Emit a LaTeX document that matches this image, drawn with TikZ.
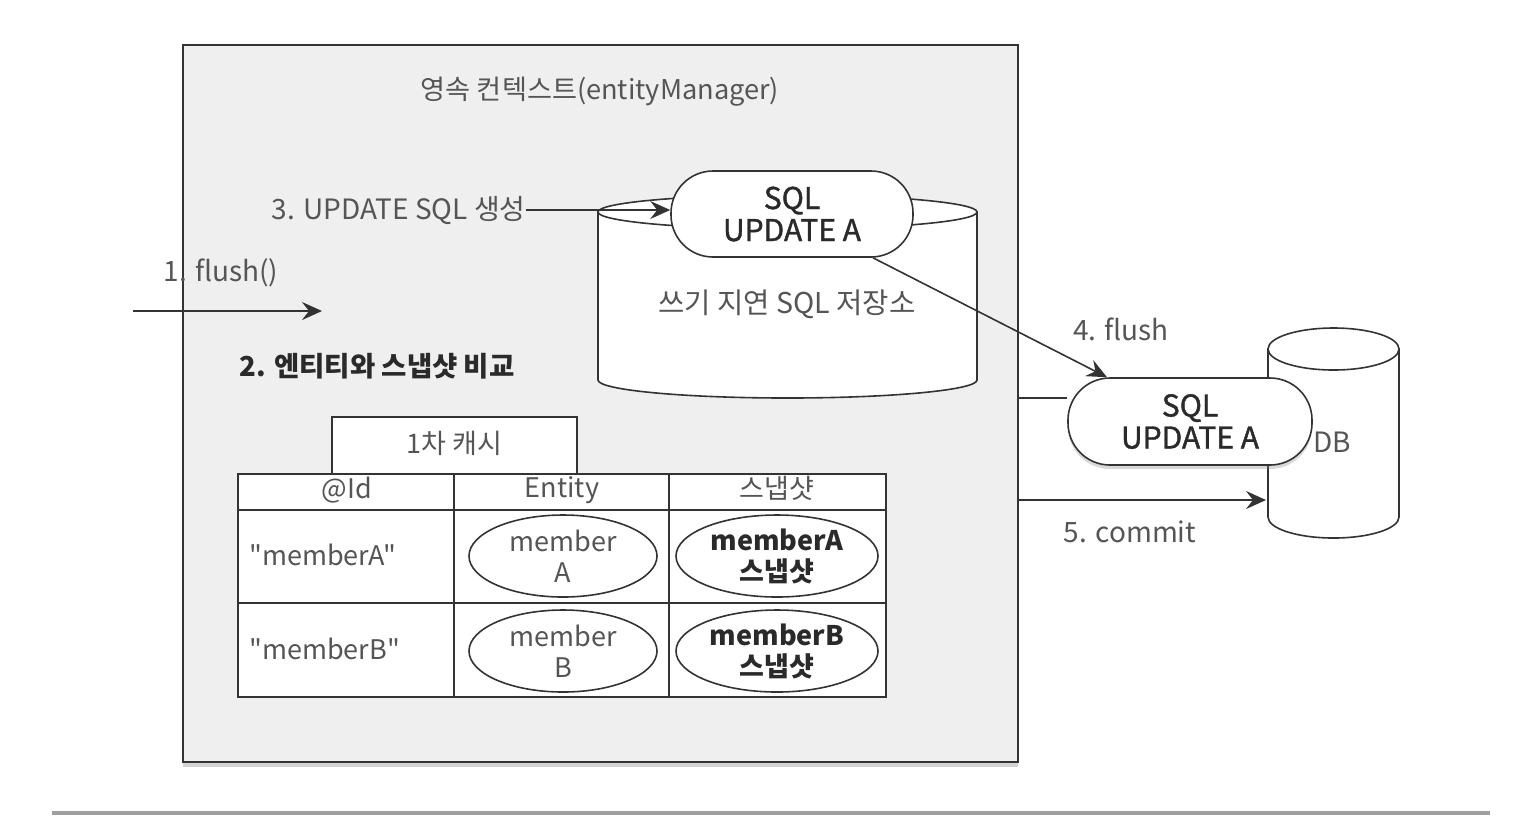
\documentclass[tikz,border=0pt]{standalone}
\usepackage{fontspec}
\setmainfont{Noto Sans CJK KR}
\newfontfamily\medfont[FakeBold=1.3]{Noto Sans CJK KR}
\newfontfamily\qfont[Ligatures=TeXOff]{Noto Sans CJK KR}
\usetikzlibrary{shapes.geometric,arrows.meta,shadows,calc}
\definecolor{bgbox}{HTML}{EFEFEF}
\definecolor{ln}{HTML}{333333}
\definecolor{tx}{HTML}{555555}
\definecolor{txd}{HTML}{2A2A2A}
\tikzset{
  lbl/.style={text=tx,font=\fontsize{14}{16}\selectfont,inner sep=0pt},
  blbl/.style={text=txd,font=\bfseries\fontsize{13.75}{15}\selectfont,inner sep=0pt},
  pill/.style={draw=ln,line width=0.8pt,fill=white,rounded corners=21pt,minimum width=121pt,minimum height=43pt,align=center,text=txd,font=\medfont\fontsize{15}{16}\selectfont,inner sep=0pt},
  arr/.style={draw=ln,line width=0.8pt,-{Stealth[length=10pt,width=9pt,inset=3.5pt]}},
  cell/.style={text=tx,font=\fontsize{13.5}{15}\selectfont,inner sep=0pt},
  ell/.style={ellipse,draw=ln,line width=0.8pt,fill=white,inner sep=0pt,align=center},
}
\begin{document}
\begin{tikzpicture}[x=0.5pt,y=-0.5pt]
\useasboundingbox (0,0) rectangle (1534,832);
% main box
\draw[draw=ln,line width=1pt,fill=bgbox,drop shadow={shadow xshift=0pt,shadow yshift=-2.5pt,opacity=0.35}] (183,45) rectangle (1018,762);
\node[lbl,font=\fontsize{13.6}{15}\selectfont] (title) at (600,92) {영속 컨텍스트(entityManager)};
% write-behind cylinder
\draw[draw=ln,line width=0.8pt,fill=white] (598,212) -- (598,380) arc[start angle=180,end angle=360,x radius=94.75pt,y radius=9pt] -- (977,212) -- cycle;
\draw[draw=ln,line width=0.8pt,fill=white] (787.5,212) ellipse[x radius=94.75pt,y radius=8.5pt];
\node[lbl,font=\fontsize{14.3}{16}\selectfont] (store) at (787,304) {쓰기 지연 SQL 저장소};
\node[pill] (pill1) at (792,214) {SQL\\UPDATE A};
% DB cylinder
\draw[draw=ln,line width=0.8pt,fill=white] (1268,349) -- (1268,517) arc[start angle=180,end angle=360,x radius=32.75pt,y radius=10.5pt] -- (1399,349) -- cycle;
\draw[draw=ln,line width=0.8pt,fill=white] (1333.5,349) ellipse[x radius=32.75pt,y radius=10.5pt];
\node[lbl] (db) at (1332,442) {DB};
\node[pill,minimum width=122pt,minimum height=43.5pt,drop shadow={shadow xshift=0pt,shadow yshift=-2pt,opacity=0.3}] (pill2) at (1190,421.5) {SQL\\UPDATE A};
% labels
\node[lbl,anchor=east] (l3) at (526,210) {3. UPDATE SQL 생성};
\node[lbl] (l1) at (221,273) {1. flush()};
\node[blbl] (l2) at (377,366) {2. 엔티티와 스냅샷 비교};
\node[lbl] (l4) at (1121,329) {4. flush};
\node[lbl] (l5) at (1130,532) {5. commit};
% connectors
\coordinate (a1s) at (133,311);
\coordinate (a1e) at (322,311);
\draw[arr] (a1s) -- (a1e);
\draw[arr] (l3.east) -- (l3.east -| pill1.west);
\draw[arr] ($(pill1.south)+(81,0)$) -- ($(pill2.north)+(-83,0)$);
\coordinate (b1) at (1018,398);
\draw[draw=ln,line width=0.8pt] (b1) -- (b1 -| pill2.west);
\coordinate (b2) at (1018,500);
\coordinate (dbl) at (1266,500);
\draw[arr] (b2) -- (dbl);
% 1st level cache
\draw[draw=ln,line width=0.8pt,fill=white] (332,417) rectangle (577,474);
\node[cell] (cache) at (454.5,443) {1차 캐시};
\draw[draw=ln,line width=1pt,fill=white] (238,474) rectangle (886,697);
\draw[draw=ln,line width=1pt] (238,510) -- (886,510) (238,603) -- (886,603) (454,474) -- (454,697) (669,474) -- (669,697);
\node[cell] (hid) at (347,490) {@Id};
\node[cell] (hent) at (562,490) {Entity};
\node[cell] (hsnap) at (777,488) {스냅샷};
\node[cell,anchor=west,font=\qfont\fontsize{13.5}{15}\selectfont] (ka) at (249,555) {"memberA"};
\node[cell,anchor=west,font=\qfont\fontsize{13.5}{15}\selectfont] (kb) at (249,649) {"memberB"};
\node[ell,minimum width=94pt,minimum height=41pt,font=\fontsize{13.5}{15.5}\selectfont,text=tx] (ea) at (563,556) {member\\A};
\node[ell,minimum width=101pt,minimum height=41pt,font=\bfseries\fontsize{13.5}{15.5}\selectfont,text=txd] (sa) at (777,556) {memberA\\스냅샷};
\node[ell,minimum width=94pt,minimum height=41pt,font=\fontsize{13.5}{15.5}\selectfont,text=tx] (eb) at (563,651) {member\\B};
\node[ell,minimum width=101pt,minimum height=41pt,font=\bfseries\fontsize{13.5}{15.5}\selectfont,text=txd] (sb) at (777,651) {memberB\\스냅샷};
% bottom rule
\coordinate (r1) at (52,813);
\coordinate (r2) at (1490,813);
\draw[draw=gray!75,line width=2pt] (r1) -- (r2);
\end{tikzpicture}
\end{document}
